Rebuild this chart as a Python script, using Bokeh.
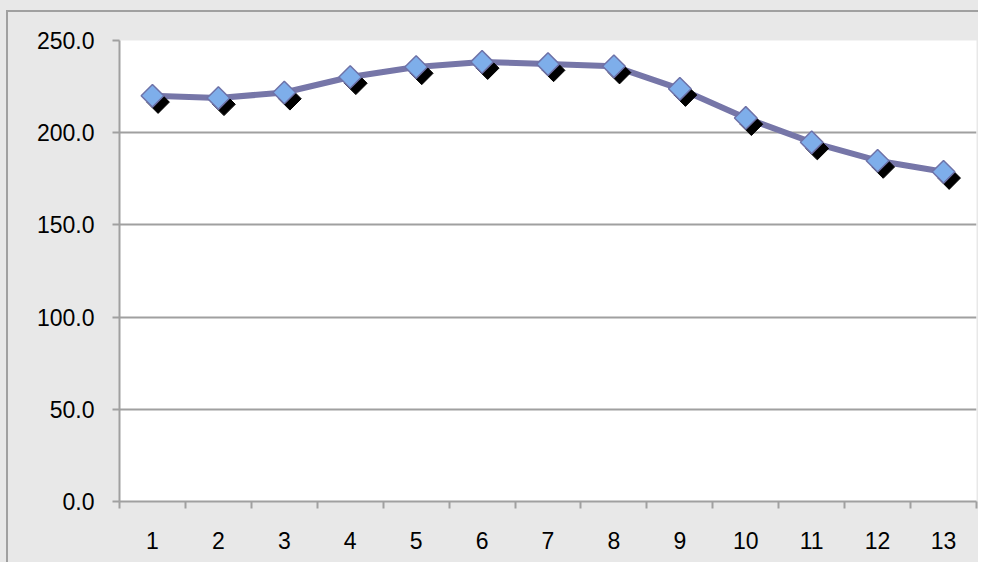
import math
from bokeh.plotting import figure
from bokeh.models import Range1d, FixedTicker, PrintfTickFormatter, ColumnDataSource
from bokeh.transform import dodge
from bokeh.embed import file_html
from bokeh.resources import INLINE

# ---- data ----
periods = [1, 2, 3, 4, 5, 6, 7, 8, 9, 10, 11, 12, 13]
values = [220.0, 218.8, 221.8, 230.2, 235.6, 238.4, 237.2, 236.0, 223.8, 208.0, 194.8, 184.8, 178.8]
y_ticks = [0, 50, 100, 150, 200, 250]
x_labels = [str(v) for v in periods]

BG = "#e8e8e8"
GRID = "#a0a0a0"
FONT = "Liberation Sans"

p = figure(width=978, height=562, output_backend="svg", toolbar_location=None,
           x_range=Range1d(periods[0] - 0.5, periods[-1] + 0.5),
           y_range=Range1d(y_ticks[0], y_ticks[-1]),
           min_border_left=119, min_border_top=40, min_border_right=2, min_border_bottom=61)

p.background_fill_color = "white"
p.border_fill_color = BG
p.border_fill_alpha = 0
p.outline_line_color = None
p.styles = {
    "background-color": BG,
    "background-image": "linear-gradient(#a0a0a0, #a0a0a0), linear-gradient(#a0a0a0, #a0a0a0)",
    "background-size": "2px 100%, 100% 2px",
    "background-position": "6px 10px, 6px 10px",
    "background-repeat": "no-repeat",
}

# x axis: labels at centres, tick marks at category boundaries
bounds = [v - 0.5 for v in periods] + [periods[-1] + 0.5]
p.xaxis.ticker = FixedTicker(ticks=periods, minor_ticks=bounds)
p.xaxis.major_label_overrides = {v: s for v, s in zip(periods, x_labels)}
p.xaxis.major_tick_line_color = None
p.xaxis.major_tick_out = 0
p.xaxis.major_tick_in = 0
p.xaxis.minor_tick_out = 7
p.xaxis.minor_tick_in = 0
p.xaxis.minor_tick_line_color = GRID
p.xaxis.minor_tick_line_width = 2
p.xaxis.axis_line_color = GRID
p.xaxis.axis_line_width = 2
p.xaxis.major_label_standoff = 23
p.xaxis.major_label_text_font = FONT
p.xaxis.major_label_text_font_size = "23px"
p.xaxis.major_label_text_color = "black"

p.yaxis.ticker = FixedTicker(ticks=y_ticks)
p.yaxis.formatter = PrintfTickFormatter(format="%.1f")
p.yaxis.major_tick_out = 7
p.yaxis.major_tick_in = 0
p.yaxis.major_tick_line_color = GRID
p.yaxis.major_tick_line_width = 2
p.yaxis.minor_tick_line_color = None
p.yaxis.axis_line_color = GRID
p.yaxis.axis_line_width = 2
p.yaxis.major_label_standoff = 18
p.yaxis.major_label_text_font = FONT
p.yaxis.major_label_text_font_size = "23px"
p.yaxis.major_label_text_color = "black"

p.xgrid.grid_line_color = None
p.ygrid.grid_line_color = GRID
p.ygrid.grid_line_width = 2
p.ygrid.ticker = FixedTicker(ticks=y_ticks)

src = ColumnDataSource(dict(x=periods, y=values))

p.line("x", "y", source=src, line_color="#7676a8", line_width=6)
p.scatter(x=dodge("x", 0.085), y=dodge("y", -3.4), source=src, marker="square",
          angle=math.pi / 4, size=16, fill_color="black", line_color="black")
p.scatter("x", "y", source=src, marker="square", angle=math.pi / 4, size=16,
          fill_color="#7eaeea", line_color="#6e72a8", line_width=1.5)

open("out.html", "w").write(file_html(p, INLINE))
